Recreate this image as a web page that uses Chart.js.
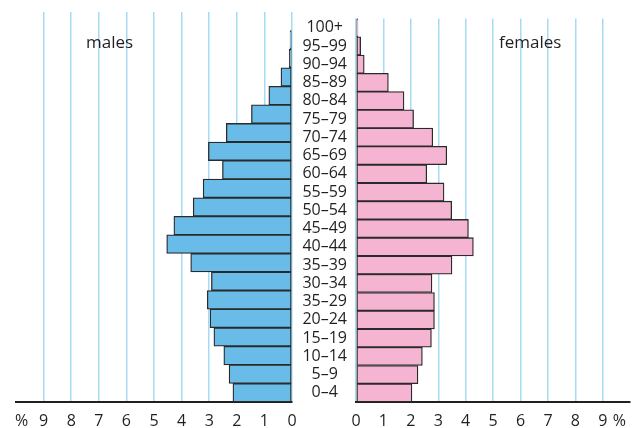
<!DOCTYPE html>
<html>
<head>
<meta charset="utf-8">
<script src="https://cdn.jsdelivr.net/npm/chart.js@4/dist/chart.umd.min.js"></script>
<style>
    html, body { margin: 0; padding: 0; background: #fff; }
    #wrap { position: relative; width: 636px; height: 428px; overflow: hidden; font-family: "Open Sans", sans-serif; color: #231f20; }
    #maleBox { position: absolute; left: 0; top: 0; width: 300px; height: 428px; }
    #femaleBox { position: absolute; left: 300px; top: 0; width: 336px; height: 428px; }
    .side { position: absolute; top: 33px; font-size: 17px; line-height: 1; }
</style>
</head>
<body>
<div id="wrap">
    <div id="maleBox"><canvas id="maleChart"></canvas></div>
    <div id="femaleBox"><canvas id="femaleChart"></canvas></div>
    <div class="side" style="left:86px">males</div>
    <div class="side" style="left:499px">females</div>
</div>
<script>
const ageGroups = ['100+', '95–99', '90–94', '85–89', '80–84', '75–79', '70–74', '65–69', '60–64', '55–59',
    '50–54', '45–49', '40–44', '35–39', '30–34', '35–29', '20–24', '15–19', '10–14', '5–9', '0–4'];

const malePct = [0, 0.07, 0.1, 0.4, 0.84, 1.47, 2.38, 3.03, 2.52, 3.22,
    3.58, 4.28, 4.54, 3.67, 2.92, 3.07, 2.97, 2.83, 2.47, 2.28, 2.14];

const femalePct = [0.07, 0.17, 0.3, 1.18, 1.75, 2.1, 2.8, 3.31, 2.58, 3.21,
    3.49, 4.1, 4.28, 3.5, 2.77, 2.86, 2.86, 2.75, 2.42, 2.26, 2.04];

const maleTickValues = [0, 1, 2, 3, 4, 5, 6, 7, 8, 9, 9.8];
const femaleTickValues = [0, 1, 2, 3, 4, 5, 6, 7, 8, 9, 9.6];
const tickLabels = ['0', '1', '2', '3', '4', '5', '6', '7', '8', '9', '%'];

const textColor = '#231f20';
const gridBlue = '#a8daf3';
const tickFont = { family: '"Open Sans", sans-serif', size: 16 };

const xScale = (tickValues, reverse) => ({
    min: 0,
    max: 10,
    reverse,
    afterBuildTicks: (scale) => {
        scale.ticks = tickValues.map((value) => ({ value }));
    },
    afterFit: (scale) => { scale.height = 26; },
    ticks: {
        autoSkip: false,
        maxRotation: 0,
        padding: 10,
        color: textColor,
        font: tickFont,
        callback: (value, index) => tickLabels[index]
    },
    grid: {
        drawTicks: false,
        lineWidth: 1.5,
        color: (ctx) => Number.isInteger(ctx.tick?.value) ? gridBlue : 'rgba(0,0,0,0)'
    },
    border: { color: textColor, width: 2 }
});

const barDataset = (data, fill) => ({
    data,
    backgroundColor: fill,
    borderColor: '#2a2a2a',
    borderWidth: 1.3,
    borderSkipped: false,
    barPercentage: 1,
    categoryPercentage: 1
});

new Chart(document.getElementById('maleChart'), {
    type: 'bar',
    data: { labels: ageGroups, datasets: [barDataset(malePct, '#69bce8')] },
    options: {
        indexAxis: 'y',
        responsive: true,
        maintainAspectRatio: false,
        animation: false,
        layout: { padding: { left: 16, right: 8, top: 12, bottom: 0 } },
        plugins: { legend: { display: false }, tooltip: { enabled: false } },
        scales: {
            x: xScale(maleTickValues, true),
            y: { display: false }
        }
    }
});

new Chart(document.getElementById('femaleChart'), {
    type: 'bar',
    data: { labels: ageGroups, datasets: [barDataset(femalePct, '#f5b4d1')] },
    options: {
        indexAxis: 'y',
        responsive: true,
        maintainAspectRatio: false,
        animation: false,
        layout: { padding: { left: 0, right: 3, top: 12, bottom: 0 } },
        plugins: { legend: { display: false }, tooltip: { enabled: false } },
        scales: {
            x: xScale(femaleTickValues, false),
            y: {
                position: 'left',
                afterFit: (scale) => { scale.width = 56; },
                grid: { display: false, drawTicks: false },
                border: { display: false },
                ticks: {
                    crossAlign: 'center',
                    padding: 9,
                    color: textColor,
                    font: tickFont,
                    autoSkip: false
                }
            }
        }
    }
});
</script>
</body>
</html>
